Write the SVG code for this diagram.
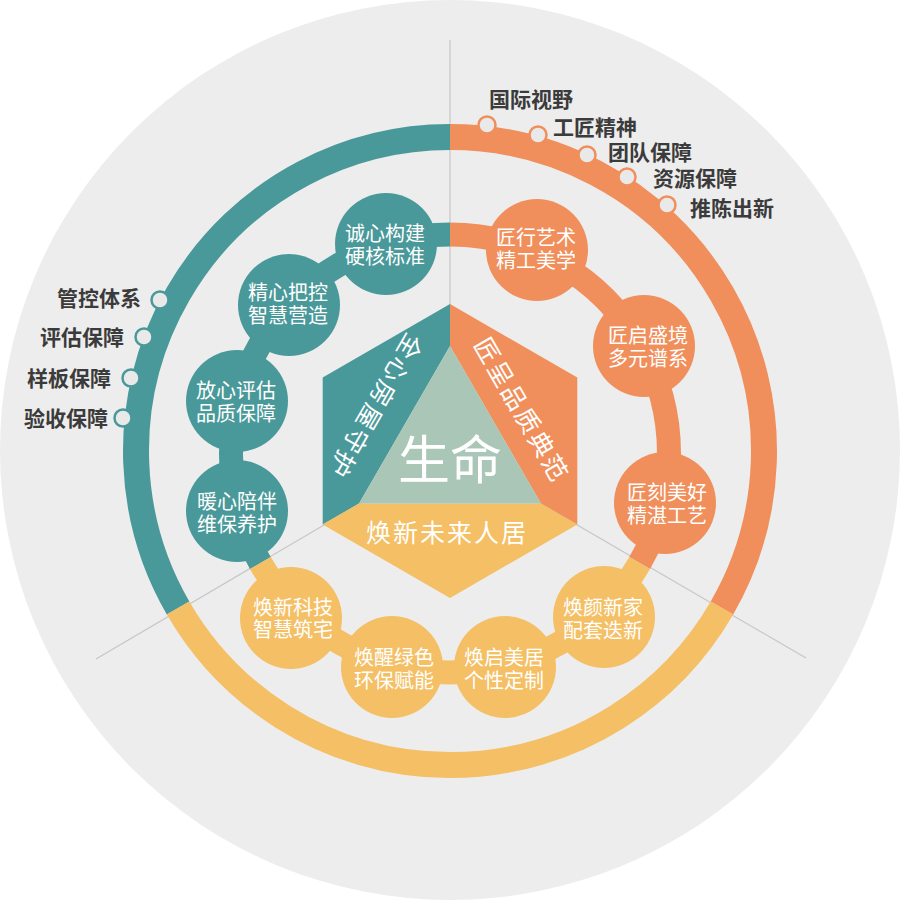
<svg xmlns="http://www.w3.org/2000/svg" width="900" height="900" viewBox="0 0 900 900">
<style>
  .t{fill:#4a999a}.o{fill:#f08f5b}.y{fill:#f4bf65}
  .node text{font-family:"Noto Sans CJK SC","Noto Sans",sans-serif;font-size:20px;fill:#fff;text-anchor:middle;dominant-baseline:central}
  .lbl{font-family:"Noto Sans CJK SC","Noto Sans",sans-serif;font-size:21px;font-weight:700;fill:#3b3b3b;dominant-baseline:central}
  .big{font-family:"Noto Sans CJK SC","Noto Sans",sans-serif;fill:#fff;text-anchor:middle;dominant-baseline:central}
  .dot{stroke-width:2.5;fill:#e9e9e9}
  .ring{fill:none;stroke-width:26}
  .band{fill:none;stroke-width:24}
</style>
<rect width="900" height="900" fill="#ffffff"/>
<circle cx="450" cy="450" r="450" fill="#ededed"/>
<g id="dividers" stroke="#c6c6c6" stroke-width="1.2">
  <line x1="450" y1="451" x2="450" y2="40"/>
  <line x1="450" y1="451" x2="96" y2="659"/>
  <line x1="450" y1="451" x2="806" y2="658"/>
</g>
<g id="outer-ring">
  <path class="ring" stroke="#4a999a" d="M178.07,608 A314,314 0 0 1 450,137"/>
  <path class="ring" stroke="#f08f5b" d="M450,137 A314,314 0 0 1 721.93,608"/>
  <path class="ring" stroke="#f4bf65" d="M721.93,608 A314,314 0 0 1 178.07,608"/>
</g>
<g id="connectors">
  <path class="band" stroke="#4a999a" d="M260.34,563 A219,219 0 0 1 450,234.5"/>
  <path class="band" stroke="#f08f5b" d="M450,234.5 A219,219 0 0 1 639.66,563"/>
  <path class="band" stroke="#f4bf65" d="M639.66,563 A219,219 0 0 1 260.34,563"/>
</g>
<g id="left-items">
  <circle class="dot" stroke="#4a999a" cx="160" cy="300" r="8.5"/>
  <circle class="dot" stroke="#4a999a" cx="144" cy="337" r="8.5"/>
  <circle class="dot" stroke="#4a999a" cx="131" cy="378" r="8.5"/>
  <circle class="dot" stroke="#4a999a" cx="123" cy="418" r="8.5"/>
  <text class="lbl" x="141" y="297" text-anchor="end">管控体系</text>
  <text class="lbl" x="124" y="336" text-anchor="end">评估保障</text>
  <text class="lbl" x="111" y="377" text-anchor="end">样板保障</text>
  <text class="lbl" x="108" y="417" text-anchor="end">验收保障</text>
</g>
<g id="right-items">
  <circle class="dot" stroke="#f08f5b" cx="487" cy="125" r="8.5"/>
  <circle class="dot" stroke="#f08f5b" cx="538" cy="135" r="8.5"/>
  <circle class="dot" stroke="#f08f5b" cx="587" cy="155" r="8.5"/>
  <circle class="dot" stroke="#f08f5b" cx="627" cy="177" r="8.5"/>
  <circle class="dot" stroke="#f08f5b" cx="667" cy="205" r="8.5"/>
  <text class="lbl" x="489" y="98">国际视野</text>
  <text class="lbl" x="553" y="126">工匠精神</text>
  <text class="lbl" x="608" y="151">团队保障</text>
  <text class="lbl" x="653" y="177">资源保障</text>
  <text class="lbl" x="690" y="207">推陈出新</text>
</g>
<g id="n-chengxin" class="node"><circle class="t" cx="386" cy="244" r="51"/><text x="385" y="232">诚心构建</text><text x="385" y="255">硬核标准</text></g>
<g id="n-jingxin" class="node"><circle class="t" cx="289" cy="305" r="51"/><text x="288" y="291">精心把控</text><text x="288" y="314">智慧营造</text></g>
<g id="n-fangxin" class="node"><circle class="t" cx="237" cy="401" r="51"/><text x="236" y="389">放心评估</text><text x="236" y="412">品质保障</text></g>
<g id="n-nuanxin" class="node"><circle class="t" cx="237" cy="511" r="51"/><text x="237" y="500">暖心陪伴</text><text x="237" y="523">维保养护</text></g>
<g id="n-jiangxing" class="node"><circle class="o" cx="537" cy="250" r="51"/><text x="536" y="236">匠行艺术</text><text x="536" y="259">精工美学</text></g>
<g id="n-jiangqi" class="node"><circle class="o" cx="644" cy="346" r="51"/><text x="648" y="334">匠启盛境</text><text x="648" y="357">多元谱系</text></g>
<g id="n-jiangke" class="node"><circle class="o" cx="665" cy="503" r="51"/><text x="667" y="491">匠刻美好</text><text x="667" y="514">精湛工艺</text></g>
<g id="n-huanyan" class="node"><circle class="y" cx="604" cy="617" r="51"/><text x="603" y="606">焕颜新家</text><text x="603" y="629">配套迭新</text></g>
<g id="n-huanqi" class="node"><circle class="y" cx="505" cy="667" r="51"/><text x="504" y="656">焕启美居</text><text x="504" y="679">个性定制</text></g>
<g id="n-huanxing" class="node"><circle class="y" cx="392" cy="667" r="51"/><text x="394" y="656">焕醒绿色</text><text x="394" y="679">环保赋能</text></g>
<g id="n-huanxin" class="node"><circle class="y" cx="291" cy="618" r="51"/><text x="293" y="606">焕新科技</text><text x="293" y="628">智慧筑宅</text></g>
<g id="hexagon">
  <polygon fill="#4a999a" points="450,304 322.7,377.5 322.7,524.5 359.07,503.5 450,346"/>
  <polygon fill="#f08f5b" points="450,304 577.3,377.5 577.3,524.5 540.93,503.5 450,346"/>
  <polygon fill="#f4bf65" points="322.7,524.5 450,598 577.3,524.5 540.93,503.5 359.07,503.5"/>
  <polygon fill="#a9c6b6" points="450,346 540.93,503.5 359.07,503.5"/>
  <text class="big" x="450" y="456" font-size="52">生命</text>
  <text class="big" x="447" y="531" font-size="25" letter-spacing="2">焕新未来人居</text>
  <text class="big" font-size="25" letter-spacing="2" transform="translate(377,407) rotate(120)">全心房屋守护</text>
  <text class="big" font-size="25" letter-spacing="2" transform="translate(523,409) rotate(60)">匠呈品质典范</text>
</g>
</svg>
